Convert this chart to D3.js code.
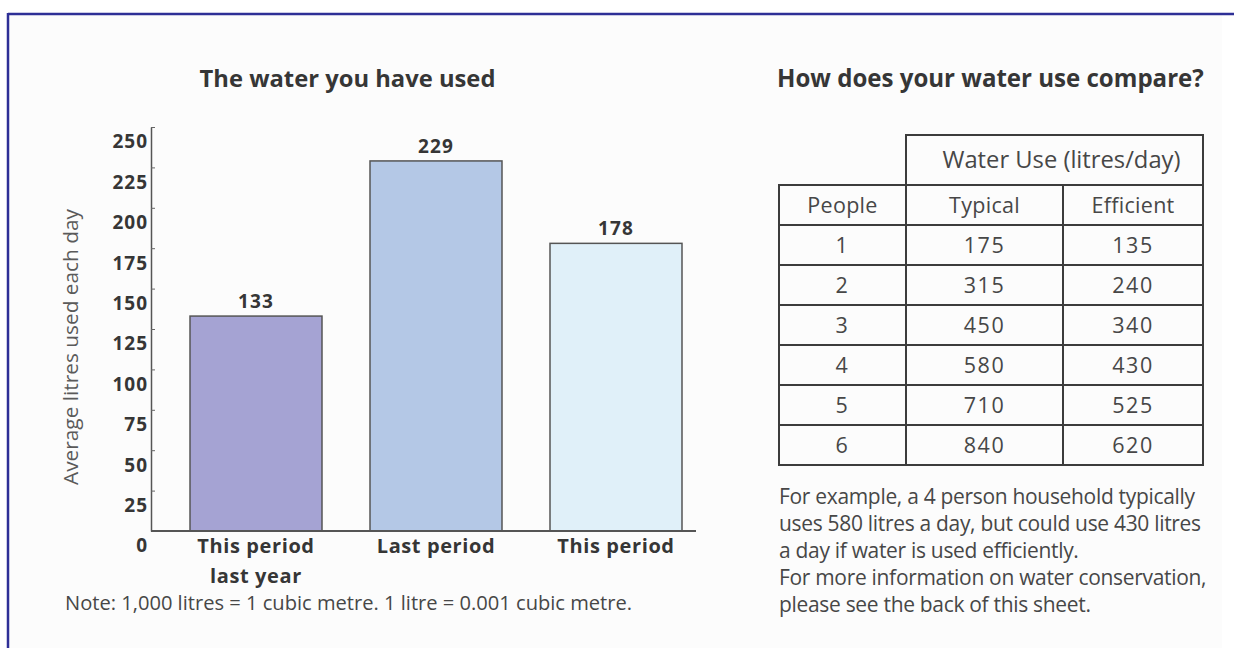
<!DOCTYPE html>
<html>
<head>
<meta charset="utf-8">
<script src="https://cdn.jsdelivr.net/npm/d3@7"></script>
<style>
  html, body { margin: 0; padding: 0; background: #ffffff; }
  svg { display: block; }
  text { font-family: "Open Sans", "DejaVu Sans", sans-serif; }
</style>
</head>
<body>
<svg id="chart" width="1234" height="648"></svg>
<script>
// ---- data ----
const categories = ["This period last year", "Last period", "This period"];
const categoryLines = [["This period", "last year"], ["Last period"], ["This period"]];
const usage = [133, 229, 178];
const yTicks = [0, 25, 50, 75, 100, 125, 150, 175, 200, 225, 250];

const people = ["1", "2", "3", "4", "5", "6"];
const typical = [175, 315, 450, 580, 710, 840];
const efficient = [135, 240, 340, 430, 525, 620];
const tableHeader = ["People", "Typical", "Efficient"];
const groupHeader = "Water Use (litres/day)";

const leftTitle = "The water you have used";
const rightTitle = "How does your water use compare?";
const yLabel = "Average litres used each day";
const noteText = "Note: 1,000 litres = 1 cubic metre. 1 litre = 0.001 cubic metre.";
const exampleLines = [
  "For example, a 4 person household typically",
  "uses 580 litres a day, but could use 430 litres",
  "a day if water is used efficiently.",
  "For more information on water conservation,",
  "please see the back of this sheet."
];

// ---- styles ----
const barFill = ["#a5a3d3", "#b4c8e6", "#e0f0f9"];
const ink = "#363636";
const softInk = "#474747";

const svg = d3.select("#chart");

// scale a text element's font size so it spans the given width
function fit(sel, width) {
  sel.each(function () {
    const w = this.getComputedTextLength();
    const fs = parseFloat(d3.select(this).attr("font-size"));
    d3.select(this).attr("font-size", (fs * width / w).toFixed(2));
  });
  return sel;
}

// page background and frame
svg.append("rect").attr("x", 0).attr("y", 0).attr("width", 1234).attr("height", 648).attr("fill", "#ffffff");
svg.append("rect").attr("x", 9).attr("y", 15).attr("width", 1213).attr("height", 633).attr("fill", "#fcfcfc");
svg.append("line").attr("x1", 8).attr("x2", 1234).attr("y1", 14).attr("y2", 14)
  .attr("stroke", "#2e2f96").attr("stroke-width", 2.5);
svg.append("line").attr("x1", 8).attr("x2", 8).attr("y1", 13).attr("y2", 648)
  .attr("stroke", "#2e2f96").attr("stroke-width", 2.5);

// ---- bar chart ----
const y = d3.scaleLinear().domain([0, 250]).range([531, 127]);
const x = d3.scaleBand().domain(d3.range(categories.length)).range([166, 706])
  .paddingInner(48 / 180).paddingOuter(24 / 180);

fit(svg.append("text").attr("x", 347.5).attr("y", 87).attr("text-anchor", "middle")
  .attr("font-size", 20).attr("font-weight", 700).attr("fill", ink).text(leftTitle), 296);

// y axis
const axisG = svg.append("g").attr("transform", "translate(151,0)")
  .call(d3.axisLeft(y).tickValues(yTicks).tickSize(-4).tickSizeOuter(0).tickPadding(4));
axisG.select(".domain").attr("stroke", "#555").attr("stroke-width", 1.5);
axisG.selectAll(".tick line").attr("stroke", "#666").attr("stroke-width", 1);
axisG.selectAll(".tick text")
  .attr("font-family", "'Open Sans', sans-serif").attr("font-size", 19).attr("font-weight", 700)
  .attr("letter-spacing", 1).attr("fill", ink).attr("dy", "1.1em").attr("x", -3);
axisG.selectAll(".tick").filter(d => d === 0).select("line").remove();

svg.append("text").attr("transform", "translate(78,347) rotate(-90)").attr("text-anchor", "middle")
  .attr("font-size", 16).attr("fill", "#5a5a5a").text(yLabel)
  .call(s => fit(s, 276));

// bars
svg.append("g").selectAll("rect").data(usage).join("rect")
  .attr("x", (d, i) => x(i)).attr("width", x.bandwidth())
  .attr("y", d => y(d)).attr("height", d => y(0) - y(d))
  .attr("fill", (d, i) => barFill[i]).attr("stroke", "#555").attr("stroke-width", 1.5);

// baseline
svg.append("line").attr("x1", 151).attr("x2", 696).attr("y1", y(0)).attr("y2", y(0))
  .attr("stroke", "#555").attr("stroke-width", 2);

// value labels
svg.append("g").selectAll("text").data(usage).join("text")
  .attr("x", (d, i) => x(i) + x.bandwidth() / 2).attr("y", d => y(d) - 8)
  .attr("text-anchor", "middle").attr("font-size", 19).attr("font-weight", 700)
  .attr("letter-spacing", 1.2).attr("fill", ink).text(d => d);

// category labels
categoryLines.forEach((lines, i) => {
  lines.forEach((ln, j) => {
    svg.append("text").attr("x", x(i) + x.bandwidth() / 2).attr("y", 553 + j * 30)
      .attr("text-anchor", "middle").attr("font-size", 20).attr("font-weight", 700)
      .attr("letter-spacing", 0.6).attr("fill", ink).text(ln);
  });
});

fit(svg.append("text").attr("x", 65).attr("y", 610).attr("font-size", 15)
  .attr("fill", softInk).text(noteText), 567);

// ---- comparison table ----
fit(svg.append("text").attr("x", 777).attr("y", 87).attr("font-size", 20).attr("font-weight", 700)
  .attr("fill", ink).text(rightTitle), 427);

const colEdges = [779, 906, 1063, 1203];
const rowTop = 185, rowH = 40, headTop = 135;
const rows = people.map((p, i) => [p, typical[i], efficient[i]]);
const ry = d3.scaleBand().domain(d3.range(rows.length + 1)).range([rowTop, rowTop + rowH * (rows.length + 1)]);
const colMid = i => (colEdges[i] + colEdges[i + 1]) / 2;

const tbl = svg.append("g").attr("fill", "none").attr("stroke", "#3c3c3c").attr("stroke-width", 2);
// group header cell
tbl.append("rect").attr("x", colEdges[1]).attr("y", headTop)
  .attr("width", colEdges[3] - colEdges[1]).attr("height", rowTop - headTop);
// body grid
tbl.append("rect").attr("x", colEdges[0]).attr("y", rowTop)
  .attr("width", colEdges[3] - colEdges[0]).attr("height", rowH * (rows.length + 1));
tbl.selectAll("line.h").data(d3.range(1, rows.length + 1)).join("line").attr("class", "h")
  .attr("x1", colEdges[0]).attr("x2", colEdges[3]).attr("y1", d => ry(d)).attr("y2", d => ry(d));
tbl.selectAll("line.v").data([1, 2]).join("line").attr("class", "v")
  .attr("x1", d => colEdges[d]).attr("x2", d => colEdges[d])
  .attr("y1", rowTop).attr("y2", rowTop + rowH * (rows.length + 1));

const cellFont = 21.5;
svg.append("text").attr("x", (colEdges[1] + colEdges[3]) / 2 + 7).attr("y", 168)
  .attr("text-anchor", "middle").attr("font-size", cellFont).attr("fill", softInk).text(groupHeader)
  .call(s => fit(s, 238));

const tableRows = [tableHeader].concat(rows);
tableRows.forEach((r, i) => {
  r.forEach((v, j) => {
    svg.append("text").attr("x", colMid(j)).attr("y", ry(i) + rowH / 2 + 8)
      .attr("text-anchor", "middle").attr("font-size", cellFont)
      .attr("letter-spacing", i === 0 ? 0.3 : 1.5).attr("fill", softInk).text(v);
  });
});

// explanatory paragraph
const para = svg.append("g");
exampleLines.forEach((ln, i) => {
  para.append("text").attr("x", 779).attr("y", 504 + i * 27).attr("font-size", 16)
    .attr("fill", softInk).attr("letter-spacing", -0.3).text(ln);
});
fit(para.select("text"), 412);
const fs = para.select("text").attr("font-size");
para.selectAll("text").attr("font-size", fs);
</script>
</body>
</html>
